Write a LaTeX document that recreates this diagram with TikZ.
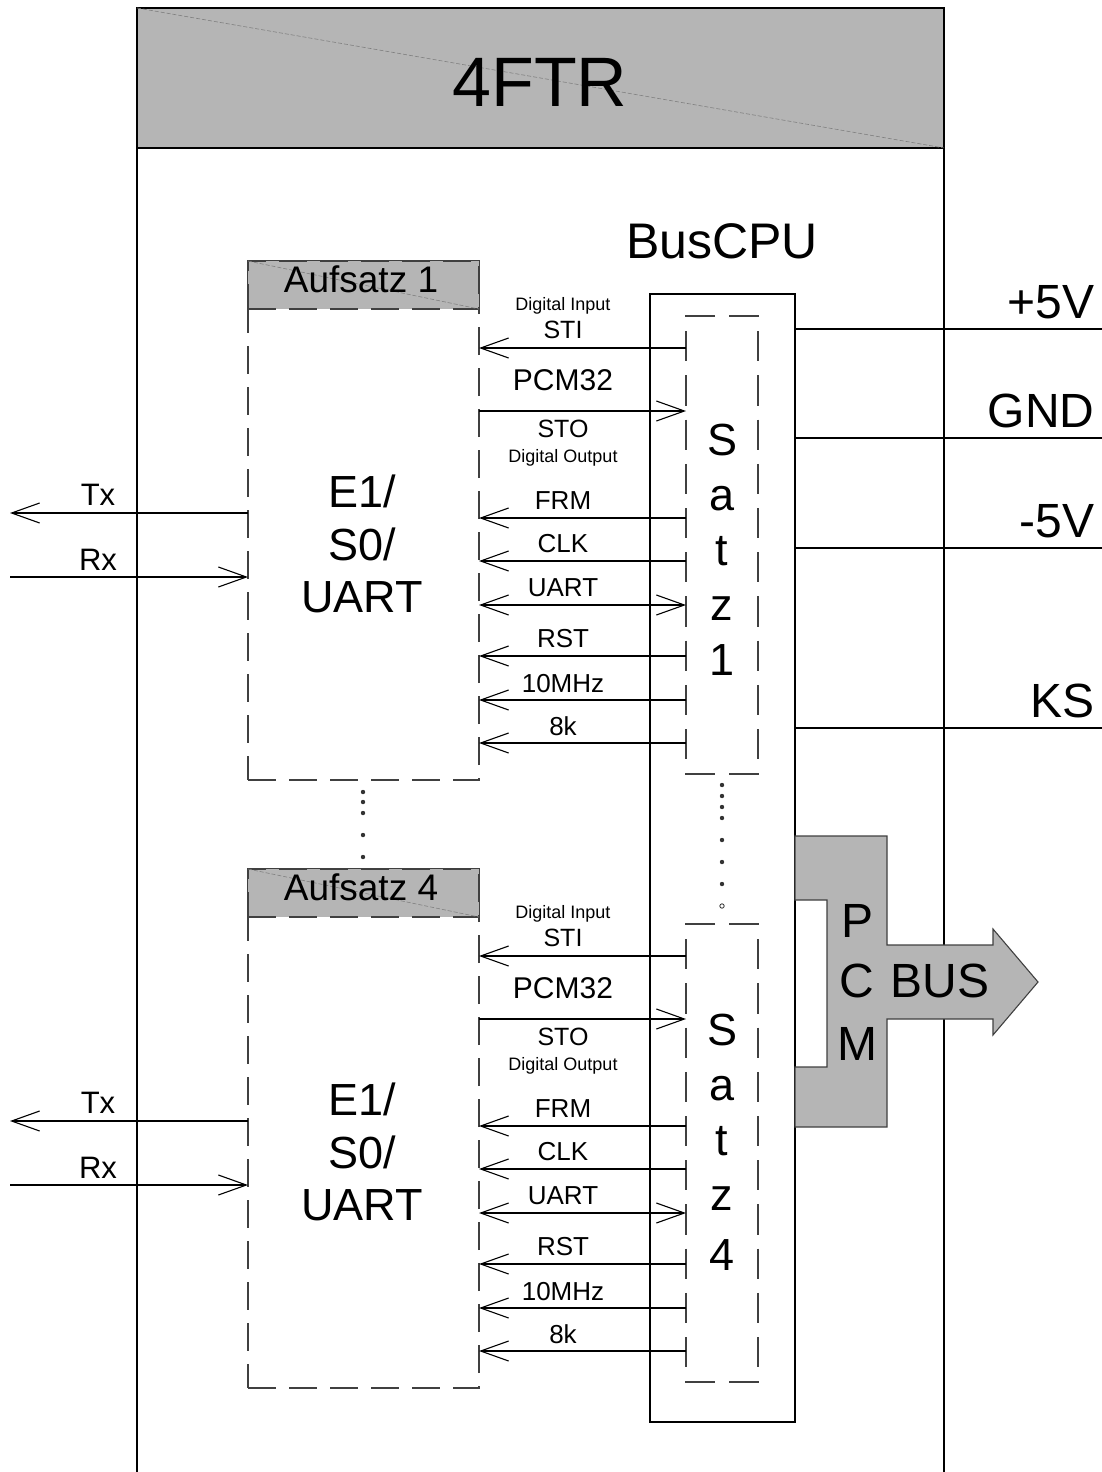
\documentclass[tikz,border=0pt]{standalone}
\usepackage{fontspec}
\setmainfont{Liberation Sans}
\usetikzlibrary{arrows.meta}
\definecolor{hdr}{RGB}{181,181,181}
\definecolor{rim}{RGB}{64,64,64}
\begin{document}
\begin{tikzpicture}[x=0.5pt,y=-0.5pt, line width=0.55pt,
  txt/.style={inner sep=0pt, anchor=base},
  f/.style={font=\fontsize{#1pt}{#1pt}\selectfont},
  sigL/.style={{Straight Barb[length=14pt,width=10pt]}-},
  sigR/.style={-{Straight Barb[length=14pt,width=10pt]}},
  sigB/.style={{Straight Barb[length=14pt,width=10pt]}-{Straight Barb[length=14pt,width=10pt]}},
  aufbox/.style={draw=rim, dash pattern=on 14pt off 6.5pt, inner sep=0pt, outer sep=0pt, minimum width=115.5pt},
  satzdash/.style={draw=rim, dash pattern=on 15.1pt off 7pt},
  diag/.style={draw=gray, line width=0.3pt, dash pattern=on 2pt off 1pt},
  sdot/.style={circle, fill=black!80, inner sep=0pt, minimum size=2.2pt},
]
\useasboundingbox (0,0) rectangle (1102,1472);

% header of the 4FTR frame
\node[draw, fill=hdr, inner sep=0pt, outer sep=0pt, minimum width=403.5pt, minimum height=70pt] (hdr) at (540.5,78) {};
\draw[diag] (hdr.north west) -- (hdr.south east);
\node[txt, f=35] (title) at (540,106) {4FTR};
\coordinate (obl) at (137,1472);
\coordinate (obr) at (944,1472);
\draw (hdr.south west) -- (obl);
\draw (hdr.south east) -- (obr);

% BusCPU
\node[draw, inner sep=0pt, outer sep=0pt, minimum width=72.5pt, minimum height=564pt] (cpu) at (722.5,858) {};
\node[txt, f=25] (cpulbl) at (722,258) {BusCPU};

% supply rails
\foreach \y/\t/\n in {329/+5V/318, 438/GND/427, 548/-5V/537, 728/KS/717}{
  \coordinate (rl\y) at (cpu.east |- 0,\y);
  \coordinate (rr\y) at (1102,\y);
  \draw (rl\y) -- (rr\y);
  \node[inner sep=0pt, anchor=base east, f=24] (rlbl\y) at (1095,\n) {\t};
}

% blocks
\foreach \b/\o in {1/0, 4/608}{
  \begin{scope}[shift={(0,\o)}]
    \node[aufbox, minimum height=259.5pt] (auf\b) at (363.5,520.5) {};
    \node[aufbox, fill=hdr, minimum height=24pt] (aufh\b) at (363.5,285) {};
    \draw[diag] (aufh\b.north west) -- (aufh\b.south east);
    \node[txt, f=18.5] (auft\b) at (361,292) {Aufsatz \b};
    \node[txt, f=22.5] (e1\b) at (362,507) {E1/};
    \node[txt, f=22.5] (s0\b) at (362,560) {S0/};
    \node[txt, f=22.5] (ua\b) at (362,612) {UART};
    % Satz box
    \node[inner sep=0pt, outer sep=0pt, minimum width=36pt, minimum height=229pt] (satz\b) at (722,545) {};
    \draw[satzdash] ([xshift=3.5pt]satz\b.north) -- (satz\b.north east) -- (satz\b.south east) -- ([xshift=3.5pt]satz\b.south);
    \draw[satzdash] ([xshift=-3.5pt]satz\b.north) -- (satz\b.north west) -- (satz\b.south west) -- ([xshift=-3.5pt]satz\b.south);
    % signals
    \foreach \y/\d in {348/L,411/R,518/L,561/L,605/B,656/L,700/L,743/L}{
      \coordinate (a\b-\y) at (auf\b.east |- 0,\y);
      \coordinate (s\b-\y) at (satz\b.west |- 0,\y);
      \draw[sig\d] (a\b-\y) -- (s\b-\y);
    }
    \foreach \yy/\s/\f in {310/Digital Input/9, 338/STI/12.5, 390/PCM32/15, 437/STO/12.5, 462/Digital Output/9, 509/FRM/13, 552/CLK/13, 596/UART/13, 647/RST/13, 692/10MHz/13, 735/8k/13}{
      \node[txt, f=\f] at (563,\yy) {\s};
    }
    % Tx / Rx
    \coordinate (tx\b) at (auf\b.west |- 0,513);
    \coordinate (txe\b) at (10,513);
    \draw[sigR] (tx\b) -- (txe\b);
    \coordinate (rx\b) at (auf\b.west |- 0,577);
    \coordinate (rxe\b) at (10,577);
    \draw[sigR] (rxe\b) -- (rx\b);
    \node[txt, f=15.5] (txl\b) at (98,505) {Tx};
    \node[txt, f=15.5] (rxl\b) at (98,570) {Rx};
  \end{scope}
}

% Satz letters
\foreach \l/\yy in {S/455, a/510, t/565, z/620, 1/675, S/1045, a/1100, t/1155, z/1210, 4/1270}{
  \node[txt, f=22.5] at (722,\yy) {\l};
}

% dots
\foreach \yy in {792,802,813,835,857}{
  \node[sdot] at (363,\yy) {};
}
\foreach \yy in {785,796,807,818,840,862,884}{
  \node[sdot] at (722,\yy) {};
}
\node[circle, draw=black!80, fill=white, line width=0.4pt, inner sep=0pt, minimum size=2.2pt] at (722,906) {};

% PCM bus
\draw[fill=hdr, draw=rim] (795,836) -- (887,836) -- (887,945) -- (993,945) -- (993,929) -- (1038,982) -- (993,1035) -- (993,1019) -- (887,1019) -- (887,1127) -- (795,1127) -- (795,1067) -- (827,1067) -- (827,900) -- (795,900) -- cycle;
\node[txt, f=24] (pp) at (857,937) {P};
\node[txt, f=24] (pc) at (857,997) {C};
\node[txt, f=24] (pm) at (857,1060) {M};
\node[txt, f=24] (pbus) at (940,997) {BUS};
\end{tikzpicture}
\end{document}
